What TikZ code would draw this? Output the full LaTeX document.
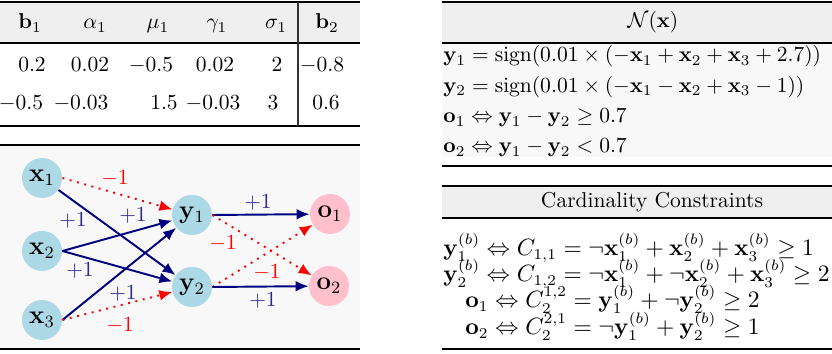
\documentclass[tikz,border=0pt]{standalone}
\usetikzlibrary{arrows.meta}
\definecolor{navyc}{RGB}{0,0,128}
\definecolor{lblue}{RGB}{173,216,230}
\definecolor{lpink}{RGB}{255,192,203}
\definecolor{hdr}{RGB}{239,239,239}
\definecolor{panel}{RGB}{248,248,248}
\definecolor{labblue}{RGB}{40,40,150}
\begin{document}
\begin{tikzpicture}[x=0.465pt,y=-0.465pt,
 rule/.style={line width=0.9pt},
 midrule/.style={line width=0.6pt},
 cell/.style={anchor=base,inner sep=0pt,font=\fontsize{10.4pt}{12pt}\selectfont},
 hcell/.style={anchor=base,inner sep=0pt},
 lrow/.style={anchor=base west,inner sep=0pt,font=\fontsize{10.5pt}{12pt}\selectfont},
 nrow/.style={anchor=base west,inner sep=0pt,font=\fontsize{10.45pt}{12pt}\selectfont},
 neur/.style={circle,fill=lblue,minimum size=18.6pt,inner sep=0pt,font=\large},
 outn/.style={circle,fill=lpink,minimum size=18.6pt,inner sep=0pt,font=\large},
 posedge/.style={draw=navyc,line width=0.9pt,-{Latex[length=6pt,width=5pt]}},
 negedge/.style={draw=red,line width=0.9pt,dash pattern=on 0.9pt off 2.6pt,-{Latex[length=6pt,width=5pt]}},
 plab/.style={text=labblue,inner sep=0pt},
 nlab/.style={text=red,inner sep=0pt}]
\useasboundingbox (0,0) rectangle (832,354);

% ---------- top-left table ----------
\fill[hdr] (0,3) rectangle (360,42);
\draw[rule] (0,2) -- (360,2);
\draw[midrule] (0,43) -- (360,43);
\draw[rule] (0,126) -- (360,126);
\draw[line width=0.9pt,black!80] (298,2) -- (298,126);
\node[cell] (hb1) at (30,29) {$\mathbf{b}_1$};
\node[cell] (ha1) at (95,29) {$\alpha_1$};
\node[cell] (hm1) at (158,29) {$\mu_1$};
\node[cell] (hg1) at (217,29) {$\gamma_1$};
\node[cell] (hs1) at (276,29) {$\sigma_1$};
\node[cell] (hb2) at (327,29) {$\mathbf{b}_2$};
\node[cell] (r1a) at (32,72) {$0.2$};
\node[cell] (r1b) at (90,72) {$0.02$};
\node[cell] (r1c) at (151,72) {$-0.5$};
\node[cell] (r1d) at (215,72) {$0.02$};
\node[cell] (r1e) at (277,72) {$2$};
\node[cell] (r1f) at (322,72) {$-0.8$};
\node[cell] (r2a) at (21,110) {$-0.5$};
\node[cell] (r2b) at (81,110) {$-0.03$};
\node[cell] (r2c) at (164,110) {$1.5$};
\node[cell] (r2d) at (213,110) {$-0.03$};
\node[cell] (r2e) at (273,110) {$3$};
\node[cell] (r2f) at (326,110) {$0.6$};

% ---------- network panel ----------
\fill[panel] (0,146) rectangle (360,348);
\draw[rule] (0,145) -- (360,145);
\draw[rule] (0,349) -- (360,349);

\node[neur] (x1) at (42,178) {$\mathbf{x}_1$};
\node[neur] (x2) at (42,251) {$\mathbf{x}_2$};
\node[neur] (x3) at (42,320) {$\mathbf{x}_3$};
\node[neur] (y1) at (192,215) {$\mathbf{y}_1$};
\node[neur] (y2) at (192,287) {$\mathbf{y}_2$};
\node[outn] (o1) at (330,214) {$\mathbf{o}_1$};
\node[outn] (o2) at (329,286) {$\mathbf{o}_2$};

\draw[negedge] (x1.east) -- (y1);
\draw[posedge] (x1) -- (y2);
\draw[posedge] (x2.east) -- (y1);
\draw[posedge] (x2.east) -- (y2);
\draw[posedge] (x3.east) -- (y1);
\draw[negedge] (x3.east) -- (y2);
\draw[posedge] (y1.east) -- (o1);
\draw[negedge] (y1.east) -- (o2);
\draw[negedge] (y2.east) -- (o1);
\draw[posedge] (y2.east) -- (o2);

\node[nlab] (l1) at (115,178) {$-1$};
\node[plab] (l2) at (73,220) {$+1$};
\node[plab] (l3) at (133,215) {$+1$};
\node[plab] (l4) at (80,270) {$+1$};
\node[plab] (l5) at (123,293) {$+1$};
\node[nlab] (l6) at (120,325) {$-1$};
\node[plab] (l7) at (258,202) {$+1$};
\node[nlab] (l8) at (223,243) {$-1$};
\node[nlab] (l9) at (267,272) {$-1$};
\node[plab] (l10) at (263,300) {$+1$};

% ---------- N(x) table ----------
\fill[hdr] (442,3) rectangle (880,42);
\fill[panel] (442,44) rectangle (880,157);
\draw[rule] (442,2) -- (880,2);
\draw[midrule] (442,43) -- (880,43);
\draw[rule] (442,166) -- (880,166);
\node[hcell] (nh) at (653,28) {$\mathcal{N}(\mathbf{x})$};
\node[nrow] (n1) at (443,62) {$\mathbf{y}_1 = \mathrm{sign}(0.01 \times (-\mathbf{x}_1 + \mathbf{x}_2 + \mathbf{x}_3 + 2.7))$};
\node[nrow] (n2) at (443,92.5) {$\mathbf{y}_2 = \mathrm{sign}(0.01 \times (-\mathbf{x}_1 - \mathbf{x}_2 + \mathbf{x}_3 - 1))$};
\node[nrow] (n3) at (443,123) {$\mathbf{o}_1 \Leftrightarrow \mathbf{y}_1 - \mathbf{y}_2 \geq 0.7$};
\node[nrow] (n4) at (443,153) {$\mathbf{o}_2 \Leftrightarrow \mathbf{y}_1 - \mathbf{y}_2 < 0.7$};

% ---------- cardinality table ----------
\fill[hdr] (442,187) rectangle (880,217);
\draw[rule] (442,186) -- (880,186);
\draw[midrule] (442,218) -- (880,218);
\draw[rule] (442,349) -- (880,349);
\node[hcell] (ch) at (652,208) {Cardinality Constraints};
\node[lrow] (c1) at (443,256) {$\mathbf{y}_1^{(b)} \Leftrightarrow C_{1,1} = \neg\mathbf{x}_1^{(b)} + \mathbf{x}_2^{(b)} + \mathbf{x}_3^{(b)} \geq 1$};
\node[lrow] (c2) at (443,282) {$\mathbf{y}_2^{(b)} \Leftrightarrow C_{1,2} = \neg\mathbf{x}_1^{(b)} + \neg\mathbf{x}_2^{(b)} + \mathbf{x}_3^{(b)} \geq 2$};
\node[lrow] (c3) at (465,308) {$\mathbf{o}_1 \Leftrightarrow C_2^{1,2} = \mathbf{y}_1^{(b)} + \neg\mathbf{y}_2^{(b)} \geq 2$};
\node[lrow] (c4) at (465,335) {$\mathbf{o}_2 \Leftrightarrow C_2^{2,1} = \neg\mathbf{y}_1^{(b)} + \mathbf{y}_2^{(b)} \geq 1$};
\end{tikzpicture}
\end{document}
